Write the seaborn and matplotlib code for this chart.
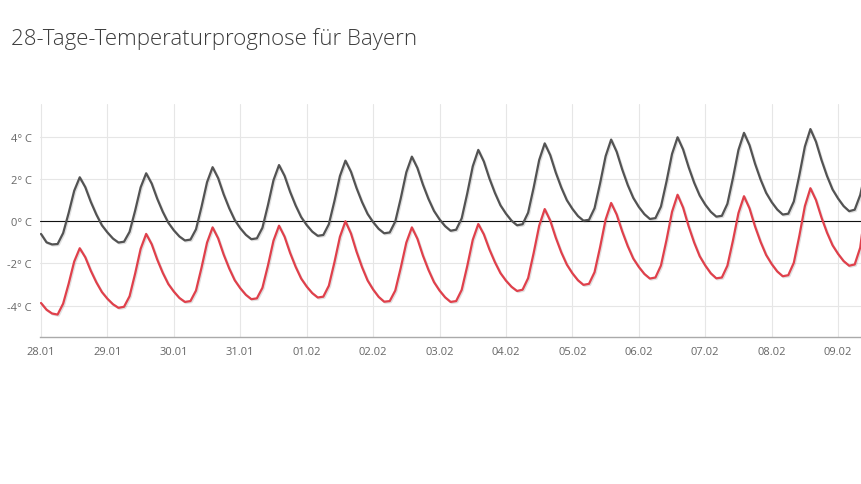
import numpy as np
import pandas as pd
import matplotlib
matplotlib.use("Agg")
import matplotlib.pyplot as plt
import matplotlib.patheffects as pe
import seaborn as sns

# 2-hourly values (0, 2, ..., 22 h) per day, starting 28.01 00:00
upper_temp = [
    -0.60, -1.00, -1.10, -1.08, -0.56, 0.40, 1.45, 2.09, 1.62, 0.92, 0.32, -0.19,   # 28.01
    -0.53, -0.82, -1.01, -0.97, -0.50, 0.50, 1.61, 2.28, 1.79, 1.07, 0.45, -0.07,   # 29.01
    -0.43, -0.72, -0.91, -0.87, -0.38, 0.69, 1.86, 2.57, 2.05, 1.28, 0.62, 0.06,    # 30.01
    -0.33, -0.64, -0.85, -0.81, -0.31, 0.77, 1.95, 2.67, 2.16, 1.40, 0.75, 0.20,    # 31.01
    -0.18, -0.49, -0.69, -0.65, -0.14, 0.95, 2.15, 2.88, 2.35, 1.58, 0.91, 0.35,    # 01.02
    -0.04, -0.36, -0.57, -0.53, -0.01, 1.10, 2.33, 3.07, 2.53, 1.74, 1.06, 0.49,    # 02.02
    0.09, -0.23, -0.45, -0.40, 0.14, 1.32, 2.61, 3.39, 2.84, 2.04, 1.35, 0.76,      # 03.02
    0.36, 0.03, -0.19, -0.14, 0.41, 1.60, 2.91, 3.70, 3.14, 2.31, 1.60, 1.00,       # 04.02
    0.59, 0.25, 0.03, 0.07, 0.62, 1.80, 3.09, 3.88, 3.30, 2.46, 1.72, 1.11,         # 05.02
    0.68, 0.34, 0.11, 0.15, 0.70, 1.89, 3.20, 3.99, 3.41, 2.57, 1.83, 1.22,         # 06.02
    0.79, 0.45, 0.22, 0.26, 0.83, 2.05, 3.39, 4.20, 3.61, 2.73, 1.98, 1.35,         # 07.02
    0.91, 0.56, 0.32, 0.36, 0.94, 2.19, 3.55, 4.38, 3.78, 2.91, 2.15, 1.51,         # 08.02
    1.08, 0.72, 0.48, 0.55, 1.25, 2.45,                                             # 09.02
]
lower_temp = [
    -3.88, -4.20, -4.38, -4.43, -3.91, -2.96, -1.91, -1.28, -1.71, -2.35, -2.90, -3.36,  # 28.01
    -3.68, -3.94, -4.11, -4.06, -3.56, -2.49, -1.31, -0.60, -1.09, -1.82, -2.45, -2.98,  # 29.01
    -3.34, -3.64, -3.83, -3.79, -3.29, -2.20, -1.01, -0.29, -0.81, -1.58, -2.24, -2.80,  # 30.01
    -3.18, -3.49, -3.70, -3.66, -3.16, -2.10, -0.92, -0.21, -0.73, -1.50, -2.16, -2.72,  # 31.01
    -3.10, -3.41, -3.62, -3.58, -3.06, -1.96, -0.74, 0.00, -0.58, -1.44, -2.18, -2.81,   # 01.02
    -3.24, -3.59, -3.82, -3.79, -3.29, -2.20, -1.01, -0.29, -0.83, -1.63, -2.31, -2.89,  # 02.02
    -3.29, -3.61, -3.83, -3.79, -3.26, -2.13, -0.88, -0.13, -0.62, -1.33, -1.94, -2.46,  # 03.02
    -2.82, -3.11, -3.31, -3.25, -2.70, -1.51, -0.21, 0.58, 0.03, -0.78, -1.48, -2.06,    # 04.02
    -2.47, -2.80, -3.02, -2.97, -2.42, -1.23, 0.08, 0.87, 0.32, -0.48, -1.18, -1.77,     # 05.02
    -2.17, -2.50, -2.72, -2.67, -2.10, -0.89, 0.45, 1.26, 0.65, -0.24, -1.01, -1.66,     # 06.02
    -2.10, -2.47, -2.71, -2.67, -2.11, -0.92, 0.39, 1.19, 0.61, -0.25, -0.98, -1.60,     # 07.02
    -2.03, -2.38, -2.61, -2.56, -1.97, -0.69, 0.72, 1.57, 1.01, 0.18, -0.54, -1.14,      # 08.02
    -1.55, -1.89, -2.11, -2.05, -1.25, 0.80,                                             # 09.02
]
day_labels = ["28.01", "29.01", "30.01", "31.01", "01.02", "02.02", "03.02",
              "04.02", "05.02", "06.02", "07.02", "08.02", "09.02"]
y_ticks = [-4, -2, 0, 2, 4]

days = np.arange(len(upper_temp)) * 2 / 24
df = pd.DataFrame({"tag": days, "oben": upper_temp, "unten": lower_temp})

sns.set_style("white")
plt.rcParams["font.family"] = ["Open Sans", "DejaVu Sans"]

fig = plt.figure(figsize=(8.62, 4.85), dpi=100)
ax = fig.add_axes([40 / 862, (485 - 338.3) / 485, 822 / 862, (338.3 - 105) / 485])

shadow = [pe.SimpleLineShadow(offset=(0.8, -0.8), alpha=0.12, shadow_color="black"), pe.Normal()]
sns.lineplot(data=df, x="tag", y="oben", ax=ax, color="#535353", lw=1.6, path_effects=shadow)
sns.lineplot(data=df, x="tag", y="unten", ax=ax, color="#e0404b", lw=1.6, path_effects=shadow)

ax.axhline(0, color="#111111", lw=0.8, zorder=1)
ax.set_xlim(-0.015, 12.36)
ax.set_ylim(-5.51, 5.57)
ax.set_xticks(range(len(day_labels)))
ax.set_xticklabels(day_labels)
ax.set_yticks(y_ticks)
ax.set_yticklabels([f"{t}° C" for t in y_ticks])
ax.grid(True, color="#e6e6e6", lw=0.8)
ax.set_axisbelow(True)
ax.tick_params(length=0, labelsize=8, labelcolor="#666666", pad=6)
ax.set_xlabel("")
ax.set_ylabel("")
for s in ["top", "right", "left"]:
    ax.spines[s].set_visible(False)
ax.spines["bottom"].set_color("#aaaaaa")
ax.spines["bottom"].set_linewidth(1.0)

fig.text(11 / 862, 1 - 45 / 485, "28-Tage-Temperaturprognose für Bayern",
         fontsize=16, fontweight="light", color="#3c3c3c", va="baseline", ha="left")

fig.savefig("out.png", dpi=100)
